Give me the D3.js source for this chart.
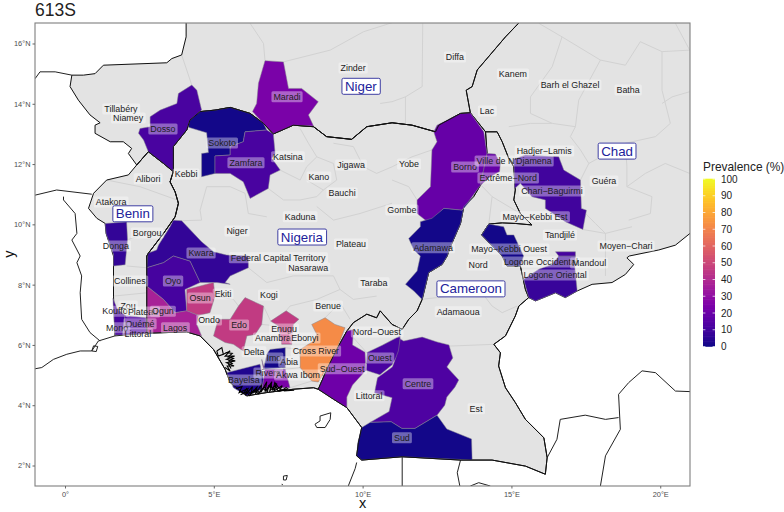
<!DOCTYPE html>
<html>
<head>
<meta charset="utf-8">
<style>
  html, body { margin: 0; padding: 0; background: #fff; }
  svg { display: block; }
  text { font-family: "Liberation Sans", Arial, sans-serif; }
</style>
</head>
<body>
<script src="https://d3js.org/d3.v7.min.js"></script>
<script>
// all outlines are [lon, lat]
var segNigerWest = [[4.07,16.9],[4.07,16.22],[3.92,15.62],[3.59,15.5],[3.42,15.36],[1.29,15.28],[1.01,15.0],[0.62,14.95],[0.23,14.95],[0.17,14.57],[0.45,14.12],[0.84,13.63],[1.18,13.37],[1.01,13.29],[1.01,13.02],[1.52,12.74],[1.96,12.74],[2.24,12.52],[2.13,12.35],[2.41,11.97]];
var segNigerBenin = [[2.41,11.97],[2.80,12.41],[3.31,12.02],[3.64,11.75]];
var segNigerNigeria = [[3.64,11.75],[3.64,12.58],[4.09,13.13],[4.20,13.46],[4.54,13.74],[5.04,13.79],[5.55,13.88],[6.22,13.68],[6.67,13.35],[7.00,13.0],[7.67,13.29],[8.35,13.24],[8.79,12.91],[9.63,12.82],[10.14,13.24],[10.99,13.37],[11.66,13.29],[12.45,13.07],[12.56,13.29],[13.29,13.68],[13.62,13.70]];
var segNigerChad = [[15.46,16.9],[14.80,16.22],[13.85,15.12],[13.68,14.57],[13.48,14.45],[13.62,13.70]];
var segBeninNigeria = [[3.64,11.75],[3.53,11.41],[3.70,11.08],[3.81,10.70],[3.70,10.25],[3.31,9.70],[2.80,9.04],[2.75,8.95],[2.75,7.84],[2.75,6.39]];
var segBeninWest = [[2.75,6.39],[1.68,6.30],[1.63,7.62],[1.63,8.95],[1.38,9.70],[1.35,10.03],[1.07,10.2],[0.79,10.53],[0.96,11.03],[1.40,11.47],[2.13,11.64],[2.41,11.97]];
var segNigeriaCameroon = [[14.13,13.07],[14.18,12.35],[13.96,11.30],[13.73,10.92],[13.40,10.59],[13.29,10.03],[12.95,9.26],[12.84,8.95],[12.67,8.67],[12.22,8.40],[12.0,7.51],[11.83,7.13],[11.55,6.85],[11.33,6.52],[10.99,6.68],[10.59,7.13],[10.47,6.90],[10.14,7.02],[9.69,6.74],[9.47,6.46],[9.13,5.85],[8.85,5.30],[8.51,4.53]];
var segCoastNigeria = [[8.51,4.53],[8.35,4.58],[7.67,4.53],[6.78,4.42],[6.11,4.31],[5.55,4.75],[5.38,5.19],[4.99,5.85],[4.54,6.30],[4.09,6.43],[2.75,6.39]];
var segCameroonChad = [[14.13,13.07],[14.52,13.07],[14.69,12.74],[14.91,12.19],[15.08,11.91],[15.13,11.14],[15.08,10.81],[15.30,10.36],[15.69,9.98],[15.13,10.03],[14.69,10.05],[14.24,10.01],[14.0,9.65],[14.69,8.95],[14.85,8.62],[15.30,8.62],[15.47,7.84],[15.58,7.57]];
var segCameroonRest = [[15.58,7.57],[15.25,7.29],[15.13,6.96],[14.80,6.30],[14.41,6.02],[14.63,5.74],[14.57,5.30],[14.80,4.58],[15.13,4.09],[15.47,3.53],[16.09,2.92],[16.20,2.26],[16.14,1.71],[15.47,1.98],[14.35,2.18],[13.29,2.18],[11.33,2.29],[9.97,2.18],[9.80,2.32],[9.86,2.76],[9.97,3.26],[9.47,3.92],[9.02,4.20],[8.51,4.53]];
var segChadSouth = [[15.58,7.57],[15.81,7.46],[16.48,7.73],[16.81,7.57],[17.21,7.79],[17.71,8.01],[18.38,8.07],[18.83,8.34],[19.11,8.67],[18.88,8.89],[18.96,8.95],[19.95,9.15],[20.51,9.31],[21.0,9.70],[21.4,10.0]];

var countryNames = ["Niger", "Benin", "Nigeria", "Cameroon", "Chad"];
var countryRings = [
  segNigerWest.concat(segNigerBenin, segNigerNigeria, segNigerChad.slice().reverse()),
  segNigerBenin.concat(segBeninNigeria, segBeninWest),
  segNigerNigeria.concat(segNigeriaCameroon, segCoastNigeria, segBeninNigeria.slice().reverse()),
  segCameroonChad.concat(segCameroonRest, segNigeriaCameroon.slice().reverse()),
  segNigerChad.concat([[14.13,13.07]], segCameroonChad, segChadSouth, [[21.4,16.9]])
];

// borders that stay black over the filled regions
var topBorders = [segNigerNigeria, segBeninNigeria, segNigerBenin, segCoastNigeria, segCameroonRest, segNigeriaCameroon.slice(19)];

var stateNames = ["Sokoto","Zamfara","Maradi","Dosso","Borno","Extrême-Nord","Chari-Baguirmi","Mayo-Kebbi Ouest","Logone Oriental","Logone Occidental","Adamawa","Kwara","Oyo","Osun","Ogun","Edo","Enugu","Cross River","Imo","Rivers","Bayelsa","Sud-Ouest","Ouest","Centre","Sud","Donga","Kouffo","Ouémé"];
var statePrevalence = [1,12,24,12,19,19,10,1,8,11,1,7,11,46,37,46,46,72,1,24,3,21,12,13,1,7,11,14];
var stateRings = [
  [[4.15,13.46],[4.54,13.74],[5.04,13.79],[5.55,13.88],[6.22,13.68],[6.67,13.35],[6.78,13.13],[6.05,13.07],[5.99,12.74],[5.55,12.58],[5.55,12.30],[5.04,12.27],[5.04,11.69],[4.59,11.58],[4.59,12.35],[4.82,12.38],[4.76,13.04],[4.15,13.22]],
  [[6.78,13.13],[7.0,13.0],[7.06,12.35],[6.95,12.19],[7.23,11.80],[6.89,11.64],[6.83,11.19],[6.22,10.86],[5.99,11.41],[5.55,11.69],[5.04,11.69],[5.04,12.27],[5.55,12.30],[5.55,12.58],[5.99,12.74],[6.05,13.07]],
  [[6.72,15.43],[7.34,15.39],[7.51,14.51],[7.95,14.51],[8.51,14.07],[8.18,13.63],[8.35,13.26],[7.67,13.29],[7.0,13.0],[6.67,13.35],[6.30,13.74],[6.44,14.01],[6.50,14.68]],
  [[4.26,14.62],[4.43,14.45],[4.59,13.79],[4.20,13.46],[4.09,13.13],[3.64,12.58],[3.64,11.75],[3.31,12.02],[2.80,12.41],[2.64,12.80],[2.47,13.02],[2.52,13.18],[2.86,13.24],[2.86,13.57],[3.20,13.79],[3.76,14.01],[3.81,14.34]],
  [[12.39,13.07],[12.50,13.29],[13.29,13.68],[13.62,13.70],[14.07,13.07],[14.18,12.35],[13.96,11.30],[13.68,10.92],[13.34,10.47],[12.73,10.53],[12.22,10.05],[11.83,10.36],[11.83,10.81],[12.28,11.25],[12.33,12.47],[12.50,12.74]],
  [[14.18,12.35],[14.46,12.33],[14.63,12.02],[14.60,11.75],[14.29,11.58],[13.96,11.30]],
  [[15.08,12.16],[15.47,12.30],[16.59,12.24],[16.76,11.80],[17.32,11.47],[17.35,10.53],[17.52,10.47],[17.40,9.83],[16.81,10.09],[16.14,10.53],[16.14,10.81],[15.69,10.92],[15.30,11.36],[15.11,11.19]],
  [[14.24,10.01],[14.74,9.92],[14.85,9.65],[15.08,9.65],[15.41,8.95],[15.30,8.62],[14.85,8.62],[14.69,8.95],[14.0,9.65]],
  [[15.41,8.18],[15.92,8.51],[16.37,8.67],[16.59,8.95],[17.15,8.95],[17.13,8.56],[17.21,7.79],[16.81,7.57],[16.48,7.73],[15.81,7.46],[15.58,7.57]],
  [[16.59,8.95],[16.48,9.09],[17.15,9.09],[17.15,8.95]],
  [[13.73,10.92],[13.40,10.59],[13.29,10.03],[12.95,9.26],[12.84,8.95],[12.67,8.67],[12.22,8.40],[12.0,7.51],[11.72,7.79],[11.44,8.01],[11.83,8.45],[11.94,8.95],[11.72,9.15],[11.55,9.53],[11.94,9.92],[11.94,10.09],[12.33,10.2],[12.73,10.53],[13.34,10.47]],
  [[3.64,10.14],[3.92,10.12],[4.59,9.42],[4.99,9.09],[5.43,8.98],[6.16,8.95],[6.16,8.56],[5.55,8.29],[5.38,8.07],[5.55,8.01],[5.10,8.07],[4.54,8.07],[4.20,8.78],[3.64,8.95],[3.31,8.73],[2.75,8.56],[2.78,9.04],[3.08,9.15],[3.14,9.31],[3.53,9.92]],
  [[2.75,8.56],[3.31,8.73],[3.64,8.95],[4.20,8.78],[4.54,8.07],[4.03,7.84],[4.09,7.13],[3.70,7.07],[3.31,7.51],[2.75,7.95]],
  [[4.09,7.84],[4.99,8.07],[5.04,7.62],[4.87,7.07],[4.48,6.98],[4.09,7.13]],
  [[2.75,7.95],[3.31,7.51],[3.70,7.07],[4.09,7.13],[4.48,6.98],[4.43,6.68],[4.59,6.30],[4.09,6.43],[2.75,6.39]],
  [[6.05,7.57],[6.67,7.29],[6.61,6.68],[6.39,6.35],[6.11,6.30],[5.99,5.80],[5.66,6.02],[5.38,6.08],[4.99,6.30],[5.15,6.85],[5.55,6.85],[5.83,7.29]],
  [[7.43,7.13],[7.86,6.85],[7.67,6.68],[7.62,6.02],[7.28,6.02],[7.17,6.63],[6.91,6.79]],
  [[8.74,6.90],[9.07,6.68],[9.41,6.57],[9.13,5.85],[8.85,5.30],[8.51,4.77],[8.29,4.80],[7.90,5.25],[7.90,5.85],[8.35,6.13],[8.46,6.35],[8.29,6.68]],
  [[6.89,5.85],[7.40,5.91],[7.40,5.25],[6.67,5.19],[6.78,5.69]],
  [[6.61,5.52],[6.67,5.19],[7.40,5.19],[7.56,4.58],[6.89,4.58],[6.61,4.53],[6.72,5.14]],
  [[5.43,5.08],[6.55,5.36],[6.67,4.86],[6.61,4.53],[6.11,4.31],[5.66,4.58]],
  [[9.47,6.46],[9.69,6.51],[9.66,6.0],[10.08,5.76],[10.11,5.16],[9.66,4.67],[9.47,4.27],[9.47,3.92],[9.02,4.20],[8.51,4.53],[8.85,5.30],[9.13,5.85]],
  [[10.15,5.75],[10.68,6.0],[11.26,6.3],[11.26,5.8],[10.99,5.34],[10.58,5.01],[10.11,5.16]],
  [[11.26,6.2],[11.38,6.13],[12.0,6.26],[12.5,6.1],[12.9,6.0],[13.03,5.57],[12.83,5.27],[13.23,4.84],[13.1,4.6],[12.83,4.27],[12.76,4.0],[12.5,3.67],[11.76,3.23],[11.32,3.23],[10.96,3.45],[10.25,3.43],[10.89,3.79],[10.99,4.25],[10.4,4.41],[10.5,4.91],[11.0,5.27],[11.2,5.8]],
  [[9.97,3.26],[9.84,2.76],[9.80,2.32],[9.97,2.18],[11.32,2.29],[13.68,2.18],[13.66,2.88],[12.83,3.21],[12.5,3.67],[11.76,3.23],[11.32,3.23],[10.96,3.45],[10.25,3.43]],
  [[1.35,10.03],[2.07,10.08],[2.10,9.5],[2.02,8.66],[1.63,8.62],[1.63,9.0],[1.38,9.70]],
  [[1.61,7.54],[1.75,7.21],[2.02,6.98],[1.95,6.33],[1.68,6.33]],
  [[2.02,6.98],[2.72,6.90],[2.75,6.38],[1.95,6.33]]
];

var otherLines = [
  [[-1.3,14.6],[-1.0,14.84],[-0.84,15.06],[-0.33,15.06],[0.23,14.95]],
  [[-1.3,10.9],[-1.0,10.97],[-0.28,11.14],[0.90,11.0]],
  [[-0.05,10.92],[-0.05,10.81],[0.34,10.36],[0.40,9.70],[0.23,9.48],[0.51,8.95],[0.40,8.73],[0.56,8.29],[0.51,7.73],[0.56,6.85],[0.84,6.41],[1.18,6.13]],
  [[-1.3,5.2],[-1.0,5.21],[-0.78,5.25],[-0.39,5.52],[0.06,5.69],[0.51,5.80],[0.90,5.80],[1.12,6.13],[1.68,6.30]],
  [[0.90,5.80],[0.96,5.97],[1.10,5.95],[1.05,5.78],[0.90,5.80]],
  [[9.80,2.1],[9.75,1.9],[9.47,1.2]],
  [[11.33,2.29],[11.33,1.2]],
  [[13.29,2.18],[13.18,1.76],[13.29,1.2]],
  [[13.5,1.2],[13.62,1.32],[13.90,1.43],[14.29,1.32],[14.4,1.2]],
  [[16.20,2.26],[16.53,2.87],[16.64,3.53],[17.48,3.67],[18.16,3.53],[18.60,3.59]],
  [[17.95,1.2],[17.99,1.32],[18.16,2.32],[18.66,3.2],[18.60,4.36],[18.94,4.75],[19.39,5.14],[19.84,5.08],[20.51,4.47],[21.3,4.44]],
  [[8.57,3.64],[8.93,3.75],[8.91,3.53],[8.74,3.26],[8.46,3.26],[8.40,3.37],[8.57,3.48],[8.57,3.64]],
  [[7.34,1.65],[7.47,1.67],[7.43,1.52],[7.34,1.52],[7.34,1.65]],
  [[7.29,1.39],[7.31,1.35]]
];

var deltaCreeks = [
  [[5.10,5.80],[5.27,5.91],[5.32,5.69],[5.15,5.63],[5.10,5.80]],
  [[5.32,5.69],[5.55,5.80],[5.38,5.63],[5.70,5.63],[5.43,5.52],[5.72,5.47],[5.43,5.41],[5.68,5.30],[5.45,5.30],[5.55,5.13],[5.38,5.25]],
  [[5.40,5.75],[5.62,5.72],[5.48,5.60],[5.66,5.55],[5.50,5.47],[5.62,5.38],[5.50,5.35],[5.58,5.22]],
  [[5.75,4.55],[5.95,4.62],[5.85,4.42],[6.15,4.55],[6.05,4.33],[6.3,4.62],[6.25,4.38],[6.45,4.6],[6.4,4.38],[6.6,4.68],[6.58,4.42],[6.78,4.78],[6.72,4.45],[6.95,4.78],[6.88,4.47],[7.12,4.72],[7.02,4.47],[7.3,4.65],[7.2,4.47],[7.5,4.55],[7.35,4.47],[7.7,4.5]],
  [[5.9,4.35],[6.1,4.45],[6.2,4.32],[6.35,4.5],[6.5,4.38],[6.65,4.55],[6.8,4.45],[6.85,4.65],[7.0,4.55],[7.05,4.75],[7.2,4.55],[7.3,4.5],[7.45,4.6]],
  [[5.85,4.5],[6.0,4.38],[6.1,4.55],[6.2,4.4],[6.35,4.42],[6.42,4.55],[6.52,4.42],[6.7,4.6],[6.78,4.5],[6.92,4.68],[6.98,4.5],[7.1,4.6],[7.15,4.48],[7.4,4.52]]
];

var regionLines = [
  [[15.92,16.67],[16.70,16.22],[17.99,15.45],[18.83,15.28],[19.33,16.06],[20.06,15.73],[20.99,15.78]],
  [[20.51,16.67],[20.99,15.78]],
  [[16.70,16.22],[16.37,15.23],[15.64,14.23],[15.64,13.68],[16.37,13.35],[17.15,13.24],[17.26,14.12],[17.99,15.45]],
  [[20.06,15.73],[20.06,14.45],[20.34,13.35],[19.84,12.91],[18.83,12.69]],
  [[20.99,14.40],[20.40,14.23],[20.06,14.01]],
  [[17.15,13.24],[16.98,12.91],[17.32,12.47],[17.60,12.02],[17.32,11.47]],
  [[17.60,12.02],[18.83,12.69],[18.88,11.91],[18.88,11.25]],
  [[14.91,13.24],[15.64,13.35],[16.37,13.35]],
  [[18.88,11.25],[19.72,10.92],[19.67,10.36],[18.94,10.14]],
  [[20.99,11.69],[20.17,12.02],[19.50,11.69],[18.88,11.25]],
  [[17.40,9.83],[18.16,9.70],[19.05,9.92]],
  [[17.32,10.53],[17.82,10.03],[18.16,9.70],[18.16,8.29]],
  [[7.90,13.18],[8.18,12.69],[8.46,12.24],[8.12,11.91],[7.90,11.47],[7.23,11.80]],
  [[9.02,12.69],[9.69,12.58],[10.03,11.91],[10.47,11.69],[10.99,11.91],[11.66,12.24],[12.33,12.47]],
  [[8.46,12.24],[9.02,12.02],[9.13,11.47],[8.68,11.14],[8.12,11.47]],
  [[6.83,11.19],[7.34,10.81],[7.90,10.81],[8.46,10.92],[8.68,11.14]],
  [[4.54,10.47],[4.76,11.25],[5.55,11.25],[6.05,11.03],[6.16,10.36],[6.78,10.25]],
  [[4.54,10.47],[4.59,10.14],[3.92,10.12]],
  [[8.46,10.59],[9.02,10.14],[9.91,10.36],[10.99,10.70]],
  [[10.99,11.47],[11.55,11.25],[11.83,10.81]],
  [[6.16,8.56],[6.78,8.07],[7.67,8.29],[9.02,8.29],[9.24,7.84],[9.69,7.51],[10.47,7.62]],
  [[7.43,7.13],[7.56,7.29],[8.46,7.51],[9.24,7.84]],
  [[8.74,6.90],[9.24,7.40],[9.58,6.85]],
  [[5.04,7.62],[5.66,7.51],[5.83,7.29]],
  [[5.99,5.80],[6.67,5.74],[6.78,5.69]],
  [[6.67,7.29],[6.91,6.79]],
  [[6.61,6.68],[7.17,6.63]],
  [[7.40,5.91],[7.90,5.85]],
  [[7.40,5.19],[7.90,5.25]],
  [[7.56,4.58],[8.29,4.80]],
  [[14.01,7.73],[14.35,7.29],[14.69,7.07],[15.19,7.29]],
  [[12.89,5.96],[14.41,6.02]],
  [[9.69,6.24],[10.14,5.74]],
  [[10.68,6.0],[11.26,6.3]],
  [[11.94,7.51],[14.01,7.73]],
  [[13.98,11.30],[14.35,10.92],[15.30,10.36]],
  [[14.35,10.92],[14.24,10.01]],
  [[2.13,9.50],[2.75,9.70],[3.31,9.70]],
  [[3.76,10.81],[2.52,11.25],[1.40,11.47]],
  [[1.63,7.62],[2.75,7.73]],
  [[2.07,8.62],[2.75,8.56]],
  [[6.22,16.67],[6.67,16.0],[6.72,15.43]],
  [[7.34,15.39],[8.91,15.78],[10.03,16.39],[10.99,16.69]],
  [[12.02,16.67],[12.0,14.57],[11.44,14.23],[10.99,14.07],[10.59,14.01]],
  [[11.44,14.23],[11.44,13.35]],
  [[3.92,15.62],[4.26,14.62]]
];

var labelNames = ["Zinder","Diffa","Kanem","Barh el Ghazel","Batha","Lac","Tillabéry","Niamey","Dosso","Maradi","Sokoto","Zamfara","Katsina","Kebbi","Alibori","Jigawa","Kano","Bauchi","Yobe","Gombe","Borno","Ville de N'Djamena","Hadjer−Lamis","Extrême−Nord","Chari−Baguirmi","Guéra","Mayo−Kebbi Est","Tandjilé","Moyen−Chari","Mayo−Kebbi Ouest","Adamawa","Atakora","Borgou","Donga","Kwara","Niger","Kaduna","Plateau","Federal Capital Territory","Nasarawa","Taraba","Oyo","Osun","Ekiti","Kogi","Benue","Collines","Zou","Kouffo","Plateau","Ogun","Ondo","Edo","Enugu","Ouémé","Mono","Lagos","Littoral","Anambra","Ebonyi","Nord−Ouest","Delta","Imo","Cross River","Abia","Sud−Ouest","Ouest","Rivers","Akwa Ibom","Bayelsa","Littoral","Centre","Est","Sud","Adamaoua","Nord","Logone Occidental","Mandoul","Logone Oriental"];
var labelLons = [9.68,13.10,15.05,16.97,18.92,14.18,1.88,2.12,3.29,7.46,5.28,6.08,7.49,4.07,2.79,9.61,8.53,9.31,11.56,11.32,13.44,15.09,16.10,14.89,16.36,18.11,15.79,16.63,18.85,14.92,12.37,1.55,2.76,1.71,4.57,5.78,7.90,9.61,7.16,8.17,10.38,3.63,4.54,5.31,6.85,8.84,2.18,2.12,1.68,2.62,3.29,4.84,5.85,7.36,2.52,1.75,3.70,2.45,6.99,8.06,10.48,6.35,7.02,8.43,7.53,9.31,10.58,6.82,7.83,6.01,10.22,11.86,13.81,11.32,13.21,13.88,15.99,17.61,16.47];
var labelLats = [15.19,15.55,14.99,14.62,14.46,13.76,13.83,13.53,13.16,14.23,12.70,12.04,12.24,11.67,11.51,11.97,11.57,11.04,12.0,10.48,11.90,12.10,12.43,11.54,11.11,11.44,10.25,9.65,9.28,9.18,9.22,10.74,9.71,9.28,9.05,9.78,10.25,9.35,8.89,8.55,8.06,8.12,7.56,7.69,7.66,7.29,8.12,7.29,7.12,7.09,7.12,6.83,6.66,6.53,6.70,6.57,6.57,6.37,6.23,6.23,6.43,5.77,5.57,5.80,5.44,5.21,5.57,5.07,5.00,4.84,4.31,4.71,3.88,2.92,7.10,8.65,8.75,8.72,8.32];

var countryLabelNames = ["Niger","Benin","Nigeria","Chad","Cameroon"];
var countryLabelLons = [9.94,2.28,7.96,18.55,13.64];
var countryLabelLats = [14.58,10.35,9.58,12.43,7.86];

var lonTicks = [0, 5, 10, 15, 20];
var latTicks = [2, 4, 6, 8, 10, 12, 14, 16];
var legendTicks = [0, 10, 20, 30, 40, 50, 60, 70, 80, 90, 100];

var svg = d3.select("body").append("svg").attr("width", 784).attr("height", 512);

var xScale = d3.scaleLinear().domain([-1.008, 21.0]).range([35, 690]);
var yScale = d3.scaleLinear().domain([16.68, 1.32]).range([23, 486]);
var plasma = d3.scaleSequential(d3.interpolatePlasma).domain([0, 100]);

var linePath = d3.line().x(d => xScale(d[0])).y(d => yScale(d[1]));
var ringPath = d3.line().x(d => xScale(d[0])).y(d => yScale(d[1])).curve(d3.curveLinearClosed);

svg.append("defs").append("clipPath").attr("id", "panel")
  .append("rect").attr("x", 35).attr("y", 23).attr("width", 655).attr("height", 463);

var map = svg.append("g").attr("clip-path", "url(#panel)");

map.append("g").selectAll("path").data(countryRings).join("path")
  .attr("d", d => ringPath(d)).attr("fill", "#e3e3e3").attr("stroke", "#e3e3e3").attr("stroke-width", 0.5);

map.append("g").selectAll("path").data(regionLines).join("path")
  .attr("d", d => linePath(d)).attr("fill", "none").attr("stroke", "#d2d2d2").attr("stroke-width", 1);

map.append("g").selectAll("path").data(otherLines).join("path")
  .attr("d", d => linePath(d)).attr("fill", "none").attr("stroke", "#222").attr("stroke-width", 1);

map.append("g").selectAll("path").data(countryRings).join("path")
  .attr("d", d => ringPath(d)).attr("fill", "none").attr("stroke", "#111").attr("stroke-width", 1);

map.append("g").selectAll("path").data(stateRings).join("path")
  .attr("d", d => ringPath(d))
  .attr("fill", (d, i) => plasma(statePrevalence[i]))
  .attr("stroke", "#85858f").attr("stroke-width", 0.5);

map.append("g").selectAll("path").data(topBorders).join("path")
  .attr("d", d => linePath(d)).attr("fill", "none").attr("stroke", "#111").attr("stroke-width", 1);

map.append("g").selectAll("path").data(deltaCreeks).join("path")
  .attr("d", d => linePath(d)).attr("fill", "none").attr("stroke", "#000").attr("stroke-width", 1.1);

// region labels, box first so later labels can cover earlier ones
labelNames.forEach(function(name, i) {
  var g = map.append("g");
  var t = g.append("text")
    .attr("x", xScale(labelLons[i])).attr("y", yScale(labelLats[i]) + 3.1)
    .attr("text-anchor", "middle").attr("font-size", 8.9).attr("fill", "#1c1c1c")
    .text(name);
  var b = t.node().getBBox();
  g.insert("rect", "text")
    .attr("x", b.x - 2).attr("y", yScale(labelLats[i]) - 5.5)
    .attr("width", b.width + 4).attr("height", 11).attr("rx", 1.5)
    .attr("fill", "#fff").attr("fill-opacity", 0.38);
});

countryLabelNames.forEach(function(name, i) {
  var g = map.append("g");
  var t = g.append("text")
    .attr("x", xScale(countryLabelLons[i])).attr("y", yScale(countryLabelLats[i]) + 4.6)
    .attr("text-anchor", "middle").attr("font-size", 13.3).attr("fill", "#22229a")
    .text(name);
  var b = t.node().getBBox();
  g.insert("rect", "text")
    .attr("x", b.x - 3).attr("y", yScale(countryLabelLats[i]) - 8)
    .attr("width", b.width + 6).attr("height", 16).attr("rx", 1.5)
    .attr("fill", "#fff").attr("stroke", "#2a2a9a").attr("stroke-width", 0.9);
});

svg.append("rect").attr("x", 35).attr("y", 23).attr("width", 655).attr("height", 463)
  .attr("fill", "none").attr("stroke", "#7f7f7f").attr("stroke-width", 1.1);

var xAxis = svg.append("g").attr("transform", "translate(0,486)")
  .call(d3.axisBottom(xScale).tickValues(lonTicks).tickSize(2.5).tickPadding(3)
    .tickFormat(d => d === 0 ? "0°" : d + "°E"));
var yAxis = svg.append("g").attr("transform", "translate(35,0)")
  .call(d3.axisLeft(yScale).tickValues(latTicks).tickSize(2.5).tickPadding(2)
    .tickFormat(d => d + "°N"));
[xAxis, yAxis].forEach(function(a) {
  a.select(".domain").remove();
  a.selectAll("line").attr("stroke", "#666");
  a.selectAll("text").attr("font-size", 7.4).attr("fill", "#4d4d4d")
    .attr("font-family", "'Liberation Sans', Arial, sans-serif");
});

svg.append("text").attr("x", 35).attr("y", 16).attr("font-size", 17.5).attr("fill", "#222").text("613S");
svg.append("text").attr("x", 362.5).attr("y", 508).attr("text-anchor", "middle")
  .attr("font-size", 14.5).attr("fill", "#111").text("x");
svg.append("text").attr("transform", "translate(14,254) rotate(-90)").attr("text-anchor", "middle")
  .attr("font-size", 14.5).attr("fill", "#111").text("y");

// legend
var legendY = d3.scaleLinear().domain([0, 100]).range([346.5, 179]);
svg.append("text").attr("x", 703).attr("y", 171).attr("font-size", 11.9).attr("fill", "#222").text("Prevalence (%)");
var legend = svg.append("g");
legend.selectAll("rect").data(d3.range(0, 100)).join("rect")
  .attr("x", 703).attr("width", 12)
  .attr("y", d => legendY(d + 1) - 0.3)
  .attr("height", legendY(0) - legendY(1) + 0.6)
  .attr("fill", d => plasma(d + 0.5));
legend.selectAll("line.l").data(legendTicks).join("line").attr("class", "l")
  .attr("x1", 703).attr("x2", 705.4).attr("y1", d => legendY(d)).attr("y2", d => legendY(d))
  .attr("stroke", "#fff").attr("stroke-width", 0.7);
legend.selectAll("line.r").data(legendTicks).join("line").attr("class", "r")
  .attr("x1", 712.6).attr("x2", 715).attr("y1", d => legendY(d)).attr("y2", d => legendY(d))
  .attr("stroke", "#fff").attr("stroke-width", 0.7);
legend.selectAll("text").data(legendTicks).join("text")
  .attr("x", 721).attr("y", d => legendY(d) + 3.6)
  .attr("font-size", 10).attr("fill", "#222").text(d => d);
</script>
</body>
</html>
